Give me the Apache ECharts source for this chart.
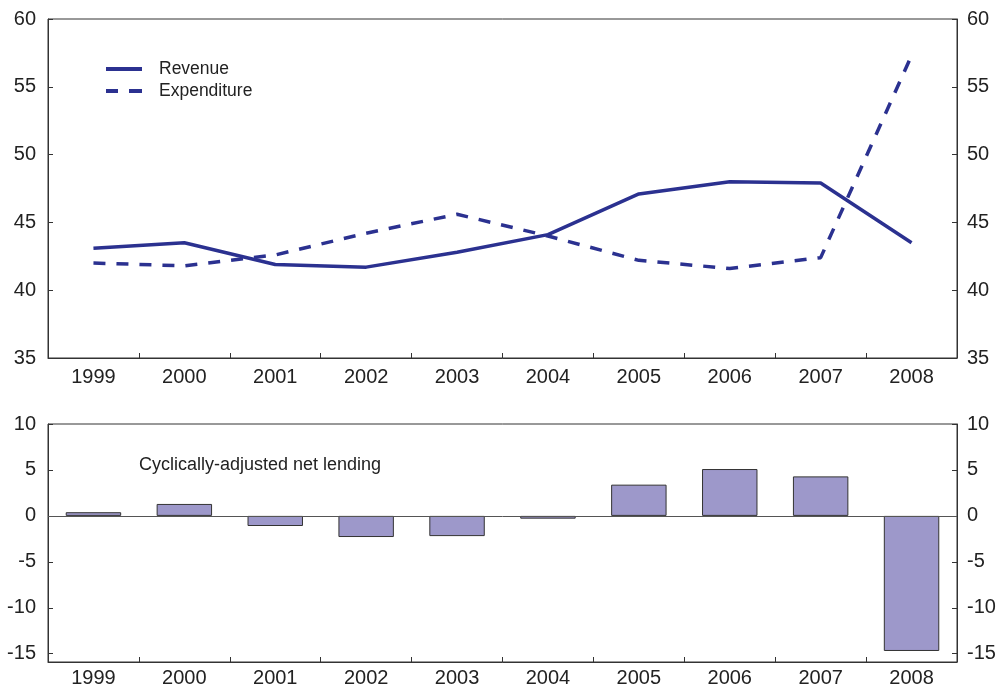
<!DOCTYPE html>
<html>
<head>
<meta charset="utf-8">
<script src="https://cdn.jsdelivr.net/npm/echarts@6/dist/echarts.min.js"></script>
<style>html,body{margin:0;padding:0;background:#fff}#c{width:1002px;height:690px}</style>
</head>
<body>
<div id="c"></div>
<script>
var years = ['1999','2000','2001','2002','2003','2004','2005','2006','2007','2008'];
var revenue = [43.1, 43.5, 41.9, 41.7, 42.8, 44.1, 47.1, 48.0, 47.9, 43.5];
var expenditure = [42.0, 41.8, 42.6, 44.2, 45.6, 44.0, 42.2, 41.6, 42.4, 57.3];
var netLending = [0.4, 1.3, -1.1, -2.3, -2.2, -0.3, 3.4, 5.1, 4.3, -14.7];
var bottomTicks = [-15, -10, -5, 0, 5, 10];

var font = 'Liberation Sans, Arial, Helvetica, sans-serif';
var axisCol = '#333';
var lineCol = '#2b3190';
var txtCol = '#222';

function yAx(gi, pos, min, max, interval, custom) {
  var a = {
    type: 'value', gridIndex: gi, position: pos, min: min, max: max,
    axisLine: {show: true, lineStyle: {color: axisCol, width: 1}},
    axisTick: {show: true, inside: true, length: 5, lineStyle: {color: axisCol}},
    axisLabel: {color: txtCol, fontSize: 20, fontFamily: font, margin: pos === 'left' ? 12 : 10},
    splitLine: {show: false}
  };
  if (interval) a.interval = interval;
  if (custom) { a.axisLabel.customValues = custom; a.axisTick.customValues = custom; }
  return a;
}
function xAx(gi, margin) {
  return {
    type: 'category', gridIndex: gi, data: years, boundaryGap: true,
    axisLine: {show: true, onZero: false, lineStyle: {color: axisCol, width: 1}},
    axisTick: {show: true, inside: true, length: 5, alignWithLabel: false, lineStyle: {color: axisCol}},
    axisLabel: {color: txtCol, fontSize: 20, fontFamily: font, margin: margin},
    splitLine: {show: false}
  };
}

var chart = echarts.init(document.getElementById('c'), null, {renderer: 'canvas'});
chart.setOption({
  animation: false,
  backgroundColor: '#fff',
  textStyle: {fontFamily: font},
  grid: [
    {left: 48, right: 45, top: 19, height: 339, show: true, borderColor: axisCol, borderWidth: 1, backgroundColor: 'transparent'},
    {left: 48, right: 45, top: 424, height: 238, show: true, borderColor: axisCol, borderWidth: 1, backgroundColor: 'transparent'}
  ],
  title: {
    text: 'Cyclically-adjusted net lending', left: 134, top: 451,
    textStyle: {fontSize: 18, fontWeight: 'normal', color: txtCol, fontFamily: font}
  },
  legend: {
    left: 101, top: 55, orient: 'vertical', itemWidth: 36, itemHeight: 4, itemGap: 4,
    data: [
      {name: 'Revenue', icon: 'path://M0,0h36v4h-36z'},
      {name: 'Expenditure', icon: 'path://M0,0h12v4h-12z M23,0h13v4h-13z'}
    ],
    itemStyle: {color: lineCol, borderWidth: 0},
    textStyle: {fontSize: 17.5, color: txtCol, fontFamily: font, padding: [0, 0, 0, 12]}
  },
  xAxis: [xAx(0, 9), xAx(1, 6)],
  yAxis: [
    yAx(0, 'left', 35, 60, 5),
    yAx(0, 'right', 35, 60, 5),
    yAx(1, 'left', -15.9, 10, null, bottomTicks),
    yAx(1, 'right', -15.9, 10, null, bottomTicks)
  ],
  series: [
    {name: 'Revenue', type: 'line', xAxisIndex: 0, yAxisIndex: 0, data: revenue, symbol: 'none',
     lineStyle: {color: lineCol, width: 3.5}, itemStyle: {color: lineCol}},
    {name: 'Expenditure', type: 'line', xAxisIndex: 0, yAxisIndex: 0, data: expenditure, symbol: 'none',
     lineStyle: {color: lineCol, width: 3.5, type: [12, 11]}, itemStyle: {color: lineCol}},
    {name: 'Net lending', type: 'bar', xAxisIndex: 1, yAxisIndex: 2, data: netLending, barWidth: '61%',
     itemStyle: {color: '#9d98ca', borderColor: '#333', borderWidth: 1},
     markLine: {silent: true, symbol: 'none', label: {show: false},
       lineStyle: {color: '#555', width: 1, type: 'solid'}, data: [{yAxis: 0}]}}
  ]
});
</script>
</body>
</html>
